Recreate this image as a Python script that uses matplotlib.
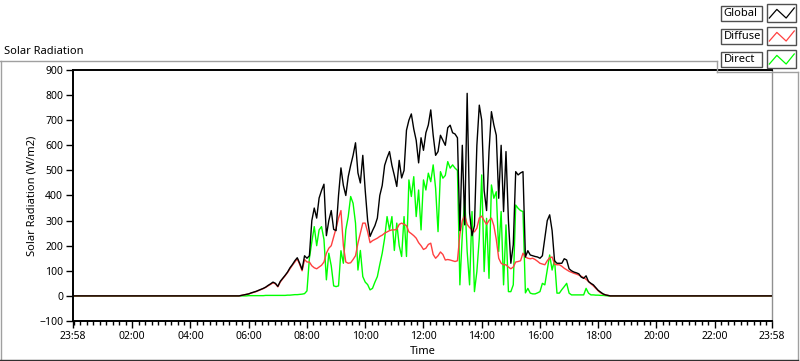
import numpy as np
import matplotlib
matplotlib.use("Agg")
import matplotlib.pyplot as plt
from matplotlib import ticker
from matplotlib.lines import Line2D
from matplotlib.patches import Rectangle

plt.rcParams['font.family'] = ['Noto Sans', 'DejaVu Sans']

# readings every 5 min from 05:40 to 18:40 (W/m2), zero during the night
START_HOUR = 5 + 40 / 60
STEP_MIN = 5

global_rad = [0, 2, 4, 6, 8, 12, 15, 18, 22, 26, 30, 35, 42, 48, 55, 50, 38, 58, 70, 82,
              95, 112, 125, 140, 152, 130, 105, 160, 150,
              160, 300, 350, 310, 390, 420, 445, 240, 300, 340, 265, 260, 400, 510, 440,
              400, 475, 520, 560, 610, 490, 450, 560, 420, 300, 237, 260, 280,
              310, 400, 440, 520, 550, 575, 520, 480, 436, 540, 470, 500, 660, 700, 725,
              665, 620, 530, 630, 580, 650, 681, 741, 640, 560, 575, 640, 620, 600, 670,
              680, 650, 645, 630,
              260, 600, 283, 807, 330, 240, 280, 600, 760, 700, 420, 340, 575, 734, 681,
              640, 389, 600, 336, 575, 300, 130, 204, 495, 482, 490, 495, 155, 180, 163,
              160, 157, 155, 150,
              160, 230, 300, 323, 260, 140, 130, 130, 130, 148, 143, 108, 100, 95, 92,
              88, 75, 70, 80, 57, 50, 44, 33, 22, 15, 8, 4, 2, 0, 0, 0, 0]

diffuse_rad = [0, 2, 4, 6, 8, 11, 14, 17, 21, 25, 29, 34, 40, 46, 52, 48, 36, 55, 68, 80,
               93, 108, 122, 135, 148, 125, 100, 145, 135,
               135, 120, 112, 108, 115, 122, 135, 170, 190, 200, 235, 270, 310, 340, 200,
               135, 130, 132, 145, 160, 210, 250, 290, 290, 255, 212, 220, 225,
               230, 237, 242, 250, 255, 260, 263, 263, 265, 285, 290, 285, 280, 255, 248,
               240, 230, 212, 200, 185, 190, 205, 210, 165, 150, 160, 175, 165, 143, 145,
               143, 140, 137, 140,
               245, 300, 320, 285, 272, 265, 255, 270, 310, 318, 300, 285, 300, 310, 280,
               225, 150, 130, 124, 124, 115, 108, 115, 135, 137, 140, 170, 155, 150, 148,
               150, 145, 138, 130,
               127, 124, 140, 152, 155, 126, 124, 124, 118, 110, 104, 98, 94, 90, 87,
               83, 78, 73, 66, 58, 48, 40, 30, 20, 12, 7, 4, 2, 0, 0, 0, 0]

direct_rad = [0, 0, 0, 0, 1, 1, 1, 1, 1, 1, 1, 2, 2, 2, 2, 2, 2, 2, 2, 2,
              3, 3, 4, 5, 5, 6, 7, 9, 20,
              150, 215, 276, 200, 263, 276, 225, 64, 170, 120, 40, 37, 40, 180, 130,
              263, 316, 396, 369, 290, 103, 181, 77, 55, 45, 24, 30, 55,
              77, 125, 170, 230, 316, 263, 316, 181, 290, 200, 157, 316, 157, 462, 396,
              475, 316, 422, 263, 462, 422, 489, 455, 522, 429, 256, 495, 469, 480, 535,
              509, 522, 509, 500,
              44, 243, 389, 177, 44, 336, 17, 97, 230, 482, 97, 309, 70, 442, 389,
              415, 177, 336, 44, 283, 17, 17, 44, 362, 349, 340, 336, 12, 30, 11,
              8, 8, 12, 17,
              50, 44, 103, 163, 103, 143, 11, 11, 25, 37, 50, 11, 4, 4, 4,
              4, 4, 4, 30, 11, 4, 4, 3, 3, 2, 2, 1, 0, 0, 0, 0, 0]

series_names = ['Global', 'Diffuse', 'Direct']
series_colors = ['#000000', '#ff4040', '#00ff00']

x_tick_hours = [-2 / 60, 2, 4, 6, 8, 10, 12, 14, 16, 18, 20, 22, 23 + 58 / 60]
x_tick_labels = ['23:58', '02:00', '04:00', '06:00', '08:00', '10:00', '12:00',
                 '14:00', '16:00', '18:00', '20:00', '22:00', '23:58']
y_ticks = [-100, 0, 100, 200, 300, 400, 500, 600, 700, 800, 900]

W, H = 800, 361


def fx(px):
    return px / W


def fy(py):
    return 1 - py / H


t_min, t_max = x_tick_hours[0], x_tick_hours[-1]


def day_series(vals):
    t = START_HOUR + np.arange(len(vals)) * STEP_MIN / 60
    return np.r_[t_min, t, t_max], np.r_[0, vals, 0]


fig = plt.figure(figsize=(W / 100, H / 100), dpi=100)
ax = fig.add_axes([fx(73), fy(321), (772 - 73) / W, (321 - 70) / H])

# global drawn last so the night baseline shows black
for vals, c, z in zip([global_rad, diffuse_rad, direct_rad], series_colors, [3, 2, 1]):
    t, v = day_series(vals)
    ax.plot(t, v, color=c, lw=1.0, zorder=z)

ax.set_xlim(t_min, t_max)
ax.set_ylim(-100, 900)
ax.set_xticks(x_tick_hours, x_tick_labels)
ax.set_yticks(y_ticks)
ax.xaxis.set_minor_locator(ticker.MultipleLocator(2 / 9))
ax.tick_params(axis='both', which='major', direction='out', length=5, width=1,
               labelsize=7.5, pad=2, colors='black')
ax.tick_params(axis='x', which='minor', direction='out', length=3, width=1)

for s in ['left', 'bottom', 'top']:
    ax.spines[s].set_linewidth(1.4)
    ax.spines[s].set_color('black')
ax.spines['right'].set_color('#909090')
ax.spines['right'].set_linewidth(1.0)

ax.set_ylabel('Solar Radiation (W/m2)', fontsize=8)
ax.yaxis.set_label_coords((38 - 73) / 699, 0.5)
ax.set_xlabel('Time', fontsize=8, va='top')
ax.xaxis.set_label_coords(0.5, (321 - 346) / 251)

fig.text(fx(4), fy(51.5), 'Solar Radiation', fontsize=8, va='center', ha='left')

# panel frame
gray = '#a0a0a0'
fig.add_artist(Line2D([fx(0), fx(717)], [fy(61), fy(61)], color=gray, lw=1))
fig.add_artist(Line2D([fx(0.5), fx(0.5)], [fy(61), fy(361)], color=gray, lw=1))
fig.add_artist(Line2D([fx(798), fx(798)], [fy(72), fy(361)], color=gray, lw=1))
fig.add_artist(Line2D([fx(0), fx(798)], [fy(359.5), fy(359.5)], color='#303030', lw=1))
fig.add_artist(Line2D([fx(717), fx(717)], [fy(61), fy(72)], color=gray, lw=1))
fig.add_artist(Line2D([fx(717), fx(798)], [fy(72), fy(72)], color=gray, lw=1))

# legend boxes
for k, (name, c) in enumerate(zip(series_names, series_colors)):
    top = 6 + 23 * k
    fig.add_artist(Rectangle((fx(721), fy(top + 15)), 41 / W, 15 / H,
                             transform=fig.transFigure, facecolor='white',
                             edgecolor='#505050', lw=1))
    fig.text(fx(723.5), fy(top + 7.5), name, fontsize=8, va='center', ha='left')
    stop = 4 + 23 * k
    x0, y0, w, h = 767, stop, 29, 18
    fig.add_artist(Rectangle((fx(x0), fy(y0 + h)), w / W, h / H,
                             transform=fig.transFigure, facecolor='white',
                             edgecolor='#505050', lw=1))
    zx = [0.08, 0.34, 0.66, 0.94]
    zy = [0.78, 0.3, 0.78, 0.22]
    fig.add_artist(Line2D([fx(x0 + w * a) for a in zx], [fy(y0 + h * b) for b in zy],
                          color=c, lw=0.9))

fig.savefig('out.png', dpi=100)
